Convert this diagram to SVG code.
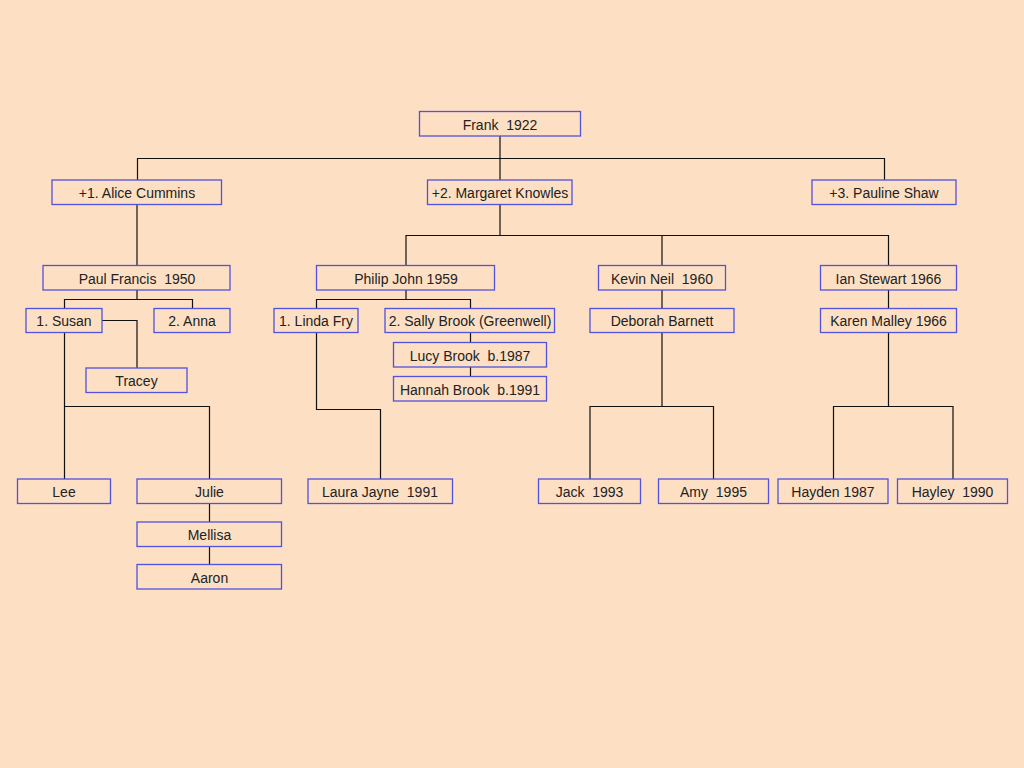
<svg xmlns="http://www.w3.org/2000/svg" width="1024" height="768" viewBox="0 0 1024 768">
<style>
.n rect{fill:#FDDFC4;stroke:#5252DC;stroke-width:1.3}
.n text{font-family:"Liberation Sans",Arial,sans-serif;font-size:14px;fill:#222;text-anchor:middle;white-space:pre}
#connectors path{fill:none;stroke:#111;stroke-width:1.2}
</style>
<rect width="1024" height="768" fill="#FDDFC4"/>
<g id="connectors">
<path d="M500 136V158.5M137.5 204V158.5H884.5V180M500 158.5V180"/>
<path d="M500 204V235.5M406 265V235.5H888.5V265M662 235.5V265"/>
<path d="M137 204V265"/>
<path d="M137 290V299.5M64.5 308V299.5H192.5V308"/>
<path d="M102 320.5H137V368"/>
<path d="M64.5 332V479M64.5 406.5H209.5V479"/>
<path d="M209.5 503V522M209.5 546V564"/>
<path d="M406 290V299.5M316.5 308V299.5H470.5V308"/>
<path d="M470.5 332V342M470.5 367V376"/>
<path d="M316.5 332V409.5H380.5V479"/>
<path d="M662 290V308M662 332V406.5M590 479V406.5H713.5V479"/>
<path d="M888.5 290V308M888.5 332V406.5M833.5 479V406.5H953V479"/>
</g>
<g id="frank" class="n"><rect x="419.5" y="111.5" width="161" height="24.5"/><text x="500" y="129.5">Frank  1922</text></g>
<g id="alice" class="n"><rect x="52" y="180" width="169.5" height="24.5"/><text x="137" y="198">+1. Alice Cummins</text></g>
<g id="margaret" class="n"><rect x="427.5" y="180" width="144.5" height="24.5"/><text x="500" y="198">+2. Margaret Knowles</text></g>
<g id="pauline" class="n"><rect x="812" y="180" width="144" height="24.5"/><text x="884" y="198">+3. Pauline Shaw</text></g>
<g id="paul" class="n"><rect x="43" y="265.5" width="187" height="24.5"/><text x="137" y="283.5">Paul Francis  1950</text></g>
<g id="philip" class="n"><rect x="316.5" y="265.5" width="178" height="24.5"/><text x="406" y="283.5">Philip John 1959</text></g>
<g id="kevin" class="n"><rect x="598.5" y="265.5" width="127" height="24.5"/><text x="662" y="283.5">Kevin Neil  1960</text></g>
<g id="ian" class="n"><rect x="820.5" y="265.5" width="136" height="24.5"/><text x="888.5" y="283.5">Ian Stewart 1966</text></g>
<g id="susan" class="n"><rect x="26" y="308.5" width="76" height="24"/><text x="64" y="326">1. Susan</text></g>
<g id="anna" class="n"><rect x="154" y="308.5" width="76" height="24"/><text x="192" y="326">2. Anna</text></g>
<g id="linda" class="n"><rect x="274" y="308.5" width="84" height="24"/><text x="316" y="326">1. Linda Fry</text></g>
<g id="sally" class="n"><rect x="385" y="308.5" width="169.5" height="24"/><text x="470" y="326">2. Sally Brook (Greenwell)</text></g>
<g id="deborah" class="n"><rect x="590" y="308.5" width="144" height="24"/><text x="662" y="326">Deborah Barnett</text></g>
<g id="karen" class="n"><rect x="820.5" y="308.5" width="136" height="24"/><text x="888.5" y="326">Karen Malley 1966</text></g>
<g id="lucy" class="n"><rect x="393.5" y="342.5" width="153" height="24.5"/><text x="470" y="360.5">Lucy Brook  b.1987</text></g>
<g id="tracey" class="n"><rect x="86" y="368" width="101" height="24.5"/><text x="136.5" y="386">Tracey</text></g>
<g id="hannah" class="n"><rect x="393.5" y="376.5" width="153" height="24.5"/><text x="470" y="394.5">Hannah Brook  b.1991</text></g>
<g id="lee" class="n"><rect x="17.5" y="479" width="93" height="24.5"/><text x="64" y="497">Lee</text></g>
<g id="julie" class="n"><rect x="137" y="479" width="144.5" height="24.5"/><text x="209.5" y="497">Julie</text></g>
<g id="laura" class="n"><rect x="308" y="479" width="144.5" height="24.5"/><text x="380" y="497">Laura Jayne  1991</text></g>
<g id="jack" class="n"><rect x="538.5" y="479" width="102" height="24.5"/><text x="589.5" y="497">Jack  1993</text></g>
<g id="amy" class="n"><rect x="658.5" y="479" width="110" height="24.5"/><text x="713.5" y="497">Amy  1995</text></g>
<g id="hayden" class="n"><rect x="778" y="479" width="110" height="24.5"/><text x="833" y="497">Hayden 1987</text></g>
<g id="hayley" class="n"><rect x="897.5" y="479" width="110" height="24.5"/><text x="952.5" y="497">Hayley  1990</text></g>
<g id="mellisa" class="n"><rect x="137" y="522" width="144.5" height="24.5"/><text x="209.5" y="540">Mellisa</text></g>
<g id="aaron" class="n"><rect x="137" y="564.5" width="144.5" height="24.5"/><text x="209.5" y="582.5">Aaron</text></g>
</svg>
